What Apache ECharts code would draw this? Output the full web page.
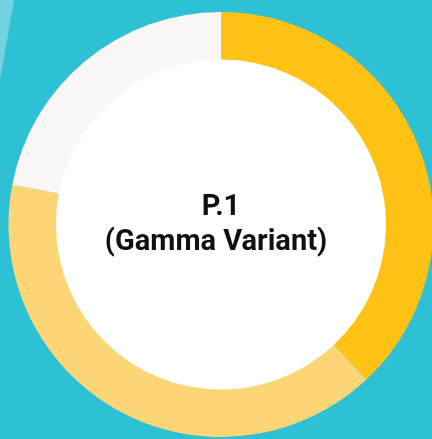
<!DOCTYPE html>
<html>
<head>
<meta charset="utf-8">
<script src="https://cdn.jsdelivr.net/npm/echarts@6/dist/echarts.min.js"></script>
<style>
html,body{margin:0;padding:0;background:#2EC1D5;}
#c{width:432px;height:439px;}
</style>
</head>
<body>
<div id="c"></div>
<script>
const categories = ['Segment A', 'Segment B', 'Segment C'];
const values = [38, 40, 22];
const colors = ['#FDC213', '#FCD676', '#FAF6F5'];
const titleLines = ['P.1', '(Gamma Variant)'];

const chart = echarts.init(document.getElementById('c'), null, {renderer: 'canvas'});
chart.setOption({
  backgroundColor: '#2EC1D5',
  animation: false,
  graphic: [
    {type: 'polygon', shape: {points: [[0,0],[14,0],[0,80]]}, style: {fill: '#72D2DF'}, z: 0},
    {type: 'circle', shape: {cx: 221, cy: 224.5, r: 166}, style: {fill: '#FFFFFF'}, z: 1},
    {type: 'text', x: 221, y: 208, style: {text: titleLines[0], fill: '#111111', font: 'bold 29px Roboto', align: 'center', verticalAlign: 'middle'}, z: 10},
    {type: 'text', x: 216, y: 243, style: {text: titleLines[1], fill: '#111111', font: 'bold 29px Roboto', align: 'center', verticalAlign: 'middle'}, z: 10}
  ],
  series: [{
    type: 'pie',
    center: [221, 224.5],
    radius: [165, 212.5],
    startAngle: 90,
    clockwise: true,
    label: {show: false},
    labelLine: {show: false},
    emphasis: {disabled: true},
    itemStyle: {borderWidth: 0},
    data: categories.map((n, i) => ({name: n, value: values[i], itemStyle: {color: colors[i]}}))
  }]
});
</script>
</body>
</html>
